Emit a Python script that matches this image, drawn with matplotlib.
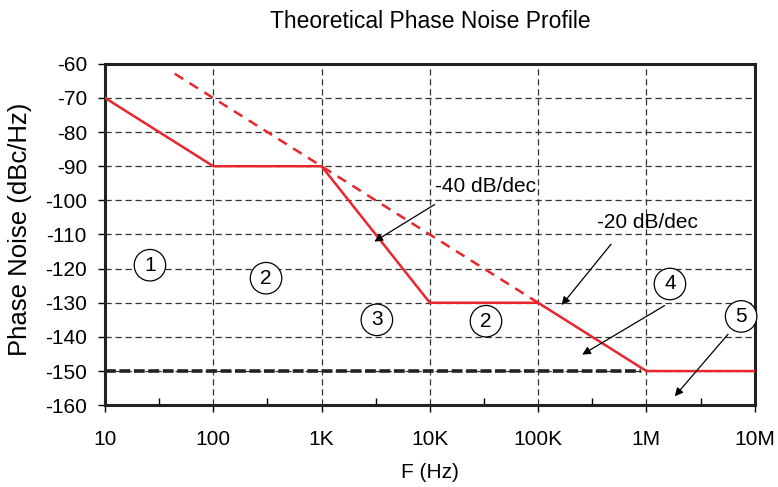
import matplotlib
matplotlib.use('Agg')
import numpy as np
import matplotlib.pyplot as plt
from matplotlib.ticker import FixedLocator, FixedFormatter

plt.rcParams['font.family'] = ['Liberation Sans', 'DejaVu Sans']
plt.rcParams['axes.unicode_minus'] = False

# profil de bruit de phase (asymptotes)
f_prof = [10, 100, 1e3, 1e4, 1e5, 1e6, 1e7]
pn_prof = [-70, -90, -90, -130, -130, -150, -150]
# pente -20 dB/dec en pointillés
f_slope = [44, 1e5]
pn_slope = [-62.9, -130]
# plancher
f_floor = [10, 9e5]
pn_floor = [-150, -150]

xticks = [10, 100, 1e3, 1e4, 1e5, 1e6, 1e7]
xlabels = ['10', '100', '1K', '10K', '100K', '1M', '10M']
yticks = list(range(-160, -59, 10))

regions = ['1', '2', '3', '2', '4', '5']
reg_f = [26, 307, 3240, 33000, 1.65e6, 7.5e6]
reg_pn = [-119, -122.8, -135, -135.4, -124.5, -134]

fig = plt.figure(figsize=(7.78, 4.87), dpi=100)
ax = fig.add_axes([0.135, 0.168, 0.835, 0.701])
ax.set_xscale('log')
ax.set_xlim(10, 1e7)
ax.set_ylim(-160, -60)

ax.grid(True, which='major', ls=(0, (5, 3)), color='#333333', lw=0.9)
ax.plot(f_prof, pn_prof, color='#e8262b', lw=1.8, zorder=3)
ax.plot(f_slope, pn_slope, color='#e8262b', lw=1.8, ls=(0, (4, 3)), zorder=3)
ax.plot(f_floor, pn_floor, color='#222222', lw=2.6, ls=(0, (3, 1)), zorder=2)

ax.xaxis.set_major_locator(FixedLocator(xticks))
ax.xaxis.set_major_formatter(FixedFormatter(xlabels))
ax.xaxis.set_minor_locator(FixedLocator([10 ** (k + 0.5) for k in range(1, 7)]))
ax.xaxis.set_minor_formatter(FixedFormatter([''] * 6))
ax.set_yticks(yticks)
ax.tick_params(axis='both', which='major', direction='out', length=5, labelsize=15, width=1, pad=8)
ax.tick_params(axis='x', which='major', pad=13)
ax.tick_params(axis='x', which='minor', direction='in', length=5, width=1)
for s in ax.spines.values():
    s.set_linewidth(2.2)
    s.set_color('#222222')

ax.set_title('Theoretical Phase Noise Profile', fontsize=16.5, y=1.106, pad=0)
ax.set_xlabel('F (Hz)', fontsize=15)
ax.xaxis.set_label_coords(0.5, -0.168)
ax.set_ylabel('Phase Noise (dBc/Hz)', fontsize=18.5)
ax.yaxis.set_label_coords(-0.112, 0.515)

for r, x, y in zip(regions, reg_f, reg_pn):
    ax.text(x, y, r, fontsize=15, ha='center', va='center', zorder=5,
            bbox=dict(boxstyle='circle,pad=0.3', fc='white', ec='black', lw=0.9))

arr = dict(arrowstyle='-|>', color='black', lw=0.9, mutation_scale=12)
ax.text(11100, -96, '-40 dB/dec', fontsize=15, ha='left', va='center')
ax.annotate('', xy=(2920, -112.5), xytext=(11640, -100.8), arrowprops=arr)
ax.text(349000, -106.6, '-20 dB/dec', fontsize=15, ha='left', va='center')
ax.annotate('', xy=(159000, -131.3), xytext=(490000, -112.2), arrowprops=arr)
ax.annotate('', xy=(243000, -145.6), xytext=(1.55e6, -130.4), arrowprops=arr)
ax.annotate('', xy=(1.76e6, -158), xytext=(5.9e6, -138.6), arrowprops=arr)

plt.savefig('out.png', dpi=100)
